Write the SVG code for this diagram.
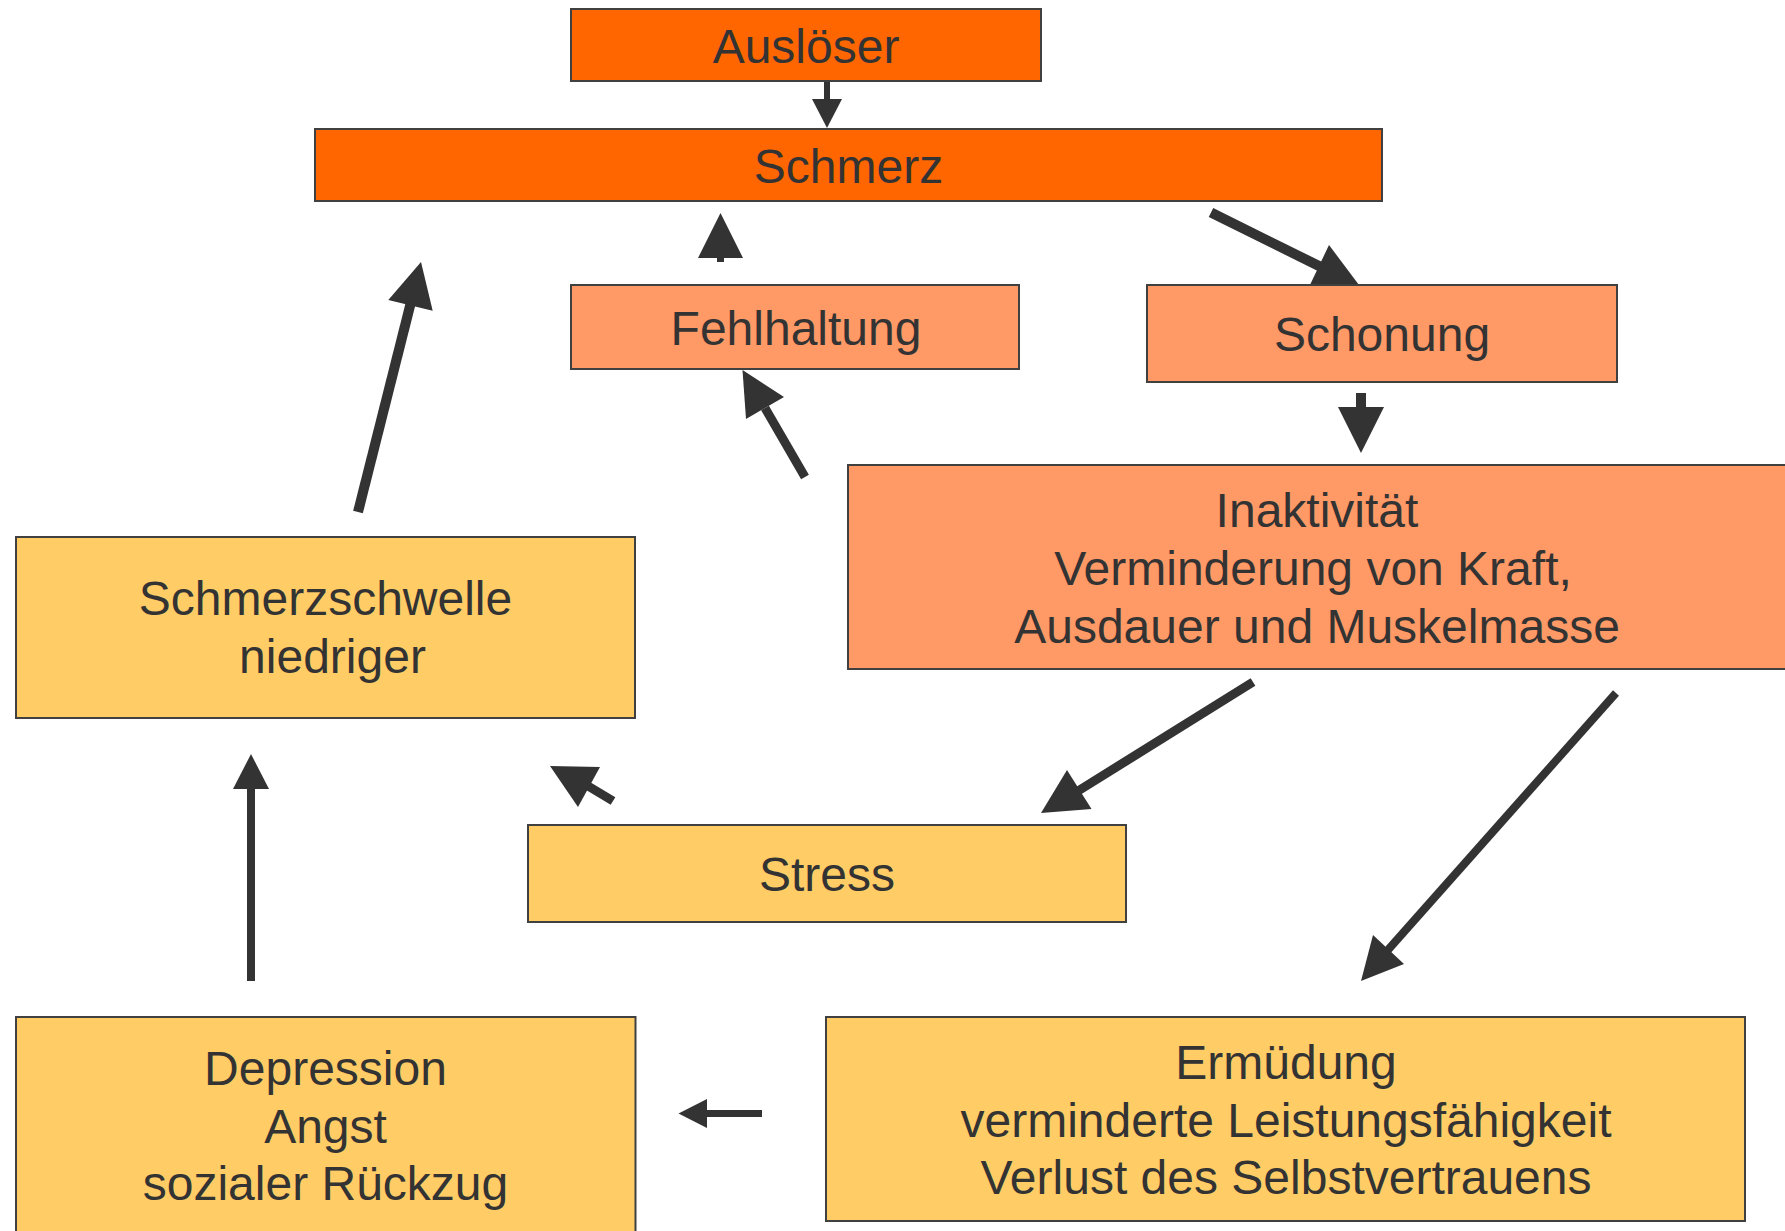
<svg xmlns="http://www.w3.org/2000/svg" width="1785" height="1231" viewBox="0 0 1785 1231">
<style>
.box{stroke:#404040;stroke-width:2}
.o1{fill:#FF6600}
.o2{fill:#FF9966}
.y{fill:#FFCC66}
.t{font-family:"Liberation Sans",Arial,sans-serif;font-size:48px;fill:#333333;text-anchor:middle}
.ln{stroke:#333333;fill:none}
.hd{fill:#333333}
</style>
<rect width="1785" height="1231" fill="#ffffff"/>
<g id="connectors">
<line class="ln" x1="827" y1="81" x2="827" y2="100" stroke-width="6"/>
<polygon class="hd" points="827,128 812,99 842,99"/>
<line class="ln" x1="720.5" y1="257" x2="720.5" y2="262" stroke-width="7"/>
<polygon class="hd" points="720.5,213 698,258 743,258"/>
<line class="ln" x1="1211" y1="212.5" x2="1320" y2="266.5" stroke-width="10"/>
<polygon class="hd" points="1359.4,285.6 1329,245 1309,287"/>
<line class="ln" x1="1361" y1="393" x2="1361" y2="408" stroke-width="10"/>
<polygon class="hd" points="1361,453 1338,407 1384,407"/>
<line class="ln" x1="805" y1="477" x2="765" y2="408" stroke-width="9"/>
<polygon class="hd" points="742.5,370 784,397 746,419"/>
<line class="ln" x1="358" y1="512" x2="410.5" y2="304" stroke-width="10"/>
<polygon class="hd" points="421,262 388.3,300 432.7,310.7"/>
<line class="ln" x1="1253" y1="682" x2="1078" y2="791" stroke-width="9"/>
<polygon class="hd" points="1041,813 1067,770 1091.5,809"/>
<line class="ln" x1="1616" y1="693" x2="1387" y2="951" stroke-width="8"/>
<polygon class="hd" points="1361,981 1373,935 1404,964"/>
<line class="ln" x1="613" y1="801" x2="588" y2="786" stroke-width="9"/>
<polygon class="hd" points="550,766 600,767 578,807"/>
<line class="ln" x1="251" y1="981" x2="251" y2="788" stroke-width="8"/>
<polygon class="hd" points="251,754 233,789 269,789"/>
<line class="ln" x1="762" y1="1113.5" x2="706" y2="1113.5" stroke-width="7"/>
<polygon class="hd" points="678.5,1113.5 707,1099 707,1128"/>
</g>
<g id="node-ausloeser">
<rect class="box o1" x="571" y="9" width="470" height="72"/>
<text class="t" x="806" y="63">Auslöser</text>
</g>
<g id="node-schmerz">
<rect class="box o1" x="315" y="129" width="1067" height="72"/>
<text class="t" x="848.5" y="183">Schmerz</text>
</g>
<g id="node-fehlhaltung">
<rect class="box o2" x="571" y="285" width="448" height="84"/>
<text class="t" x="796" y="345">Fehlhaltung</text>
</g>
<g id="node-schonung">
<rect class="box o2" x="1147" y="285" width="470" height="97"/>
<text class="t" x="1382" y="351">Schonung</text>
</g>
<g id="node-inaktivitaet">
<rect class="box o2" x="848" y="465" width="940" height="204"/>
<text class="t" x="1317" y="527">Inaktivität</text>
<text class="t" x="1313" y="585">Verminderung von Kraft,</text>
<text class="t" x="1317" y="643">Ausdauer und Muskelmasse</text>
</g>
<g id="node-schmerzschwelle">
<rect class="box y" x="16" y="537" width="619" height="181"/>
<text class="t" x="325.5" y="615">Schmerzschwelle</text>
<text class="t" x="332.5" y="673">niedriger</text>
</g>
<g id="node-stress">
<rect class="box y" x="528" y="825" width="598" height="97"/>
<text class="t" x="827" y="891">Stress</text>
</g>
<g id="node-ermuedung">
<rect class="box y" x="826" y="1017" width="919" height="204"/>
<text class="t" x="1286" y="1079">Ermüdung</text>
<text class="t" x="1286" y="1137">verminderte Leistungsfähigkeit</text>
<text class="t" x="1286" y="1194">Verlust des Selbstvertrauens</text>
</g>
<g id="node-depression">
<rect class="box y" x="16" y="1017" width="619.5" height="230"/>
<text class="t" x="325.5" y="1085">Depression</text>
<text class="t" x="325.5" y="1143">Angst</text>
<text class="t" x="325.5" y="1200">sozialer Rückzug</text>
</g>
</svg>
